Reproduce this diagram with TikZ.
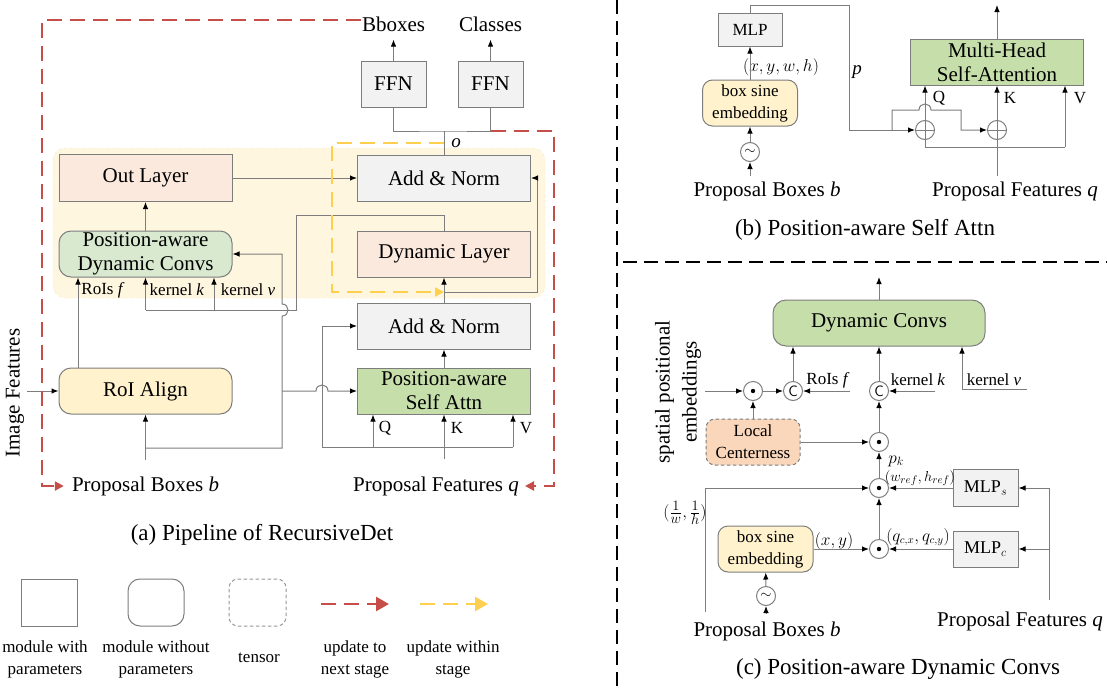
\documentclass[tikz,border=0pt]{standalone}
\usepackage{amsmath}
\usepackage{fontspec}
\setmainfont{Liberation Serif}
\usetikzlibrary{arrows.meta, positioning, calc}
\definecolor{paramgray}{RGB}{242,242,242}
\definecolor{linegray}{RGB}{125,125,125}
\definecolor{layerpeach}{RGB}{251,233,221}
\definecolor{convgreen}{RGB}{216,233,208}
\definecolor{attngreen}{RGB}{198,222,170}
\definecolor{alignyellow}{RGB}{255,242,204}
\definecolor{centerorange}{RGB}{250,214,186}
\definecolor{stagefill}{RGB}{255,246,224}
\definecolor{stageedge}{RGB}{252,234,192}
\definecolor{nextred}{RGB}{197,78,72}
\definecolor{withinyellow}{RGB}{255,208,80}
\newcommand{\boxfont}{\fontsize{21}{24}\selectfont}
\newcommand{\lblfont}{\fontsize{17}{22}\selectfont}
\newcommand{\capfont}{\fontsize{23}{26}\selectfont}
\newcommand{\mathlblfont}{\fontsize{15}{17}\selectfont}
\tikzset{
    parambox/.style={rectangle, draw=linegray, line width=1pt, fill=#1, inner sep=0pt, align=center, font=\boxfont},
    freebox/.style={parambox=#1, rounded corners=12pt},
    tensorbox/.style={parambox=#1, rounded corners=9pt, dash pattern=on 3.5pt off 2.5pt},
    conn/.style={draw=linegray, line width=1pt},
    arr/.style={conn, -{Latex[length=7pt, width=5.5pt, color=black]}},
    nextarrow/.style={draw=nextred, line width=2.6pt, dash pattern=on 15pt off 8pt, -{Triangle[length=9pt, width=9pt]}},
    withinarrow/.style={draw=withinyellow, line width=2.6pt, dash pattern=on 15pt off 8pt, -{Triangle[length=9pt, width=9pt]}},
    sepline/.style={draw=black, line width=2.6pt, dash pattern=on 14pt off 7pt},
    opcircle/.style={circle, draw=linegray, line width=1pt, fill=white, minimum size=19pt, inner sep=0pt},
    opdot/.style={opcircle, path picture={\fill[black] (path picture bounding box.center) circle (2.2pt);}},
    opplus/.style={opcircle, path picture={\draw[linegray, line width=1pt] (path picture bounding box.north) -- (path picture bounding box.south) (path picture bounding box.west) -- (path picture bounding box.east);}},
    opcat/.style={opcircle, font=\fontsize{15}{15}\sffamily},
}

\begin{document}
\begin{tikzpicture}[
    x=1pt, y=-1pt,
    wide/.style={minimum width=173pt, minimum height=46pt},
    lbl/.style={inner sep=1pt, font=\lblfont},
    mlbl/.style={inner sep=1pt, font=\mathlblfont},
    io/.style={inner sep=1pt, font=\boxfont},
    caption/.style={inner sep=1pt, font=\capfont}
]
\useasboundingbox (0,0) rectangle (1107,688);

% (a) stage background
\path[fill=stagefill, draw=stageedge, dashed, rounded corners=12pt] (53,148) rectangle (545,298);

% (a) modules
\node[parambox=layerpeach, wide, minimum height=47pt] (outlayer) at (145.5,178) {Out Layer};
\node[freebox=convgreen, wide] (padc) at (145.5,254) {Position-aware\\Dynamic Convs};
\node[freebox=alignyellow, wide] (roialign) at (145.5,391) {RoI Align};
\node[parambox=paramgray, wide] (addnorm2) at (444,178) {Add \& Norm};
\node[parambox=layerpeach, wide] (dynlayer) at (444,254) {Dynamic Layer};
\node[parambox=paramgray, wide] (addnorm1) at (444,326) {Add \& Norm};
\node[parambox=attngreen, wide] (pasa) at (444,391) {Position-aware\\Self Attn};
\node[parambox=paramgray, minimum width=65pt, minimum height=46pt] (ffnbox) at (393.5,84) {FFN};
\node[parambox=paramgray, minimum width=65pt, minimum height=46pt] (ffncls) at (490.5,84) {FFN};

% (a) texts
\node[io] (bboxes) at (393.5,24) {Bboxes};
\node[io] (classes) at (490.5,24) {Classes};
\node[io] (pboxesa) at (145.5,486) {Proposal Boxes \textit{b}};
\node[io] (pfeatsa) at (436,486) {Proposal Features \textit{q}};
\node[io, rotate=90] (imgfeat) at (15,393) {Image Features};
\node[lbl] (roisa) at (103,290) {RoIs \textit{f}};
\node[lbl] (kernka) at (177,290) {kernel \textit{k}};
\node[lbl] (kernva) at (248,290) {kernel \textit{v}};
\node[lbl] (qa) at (385,428) {Q};
\node[lbl] (ka) at (457,428) {K};
\node[lbl] (va) at (526,428) {V};
\node[lbl, font=\fontsize{19}{19}\selectfont\itshape] (olbl) at (456,143) {o};
\node[caption] (capa) at (262,535) {(a) Pipeline of RecursiveDet};

% (a) outputs
\draw[arr, shorten >=7pt] (ffnbox.north) -- (bboxes.south);
\draw[arr, shorten >=7pt] (ffncls.north) -- (classes.south);
\coordinate (ojoin) at (444,131);
\draw[conn] (ffnbox.south) |- (ojoin) -| (ffncls.south);
\draw[conn] (addnorm2.north) -- (ojoin);

% (a) left column
\draw[arr] (outlayer.east) -- (addnorm2.west);
\draw[arr] (padc) -- (outlayer);
\coordinate (roisx) at (78,0);
\draw[arr] (roialign.north -| roisx) -- (padc.south -| roisx);
\coordinate (kturn) at (296,215);
\coordinate (kbase) at (296,310);
\coordinate (kx) at (145.5,310);
\coordinate (vx) at (214,310);
\draw[conn] (dynlayer.north) |- (kturn) -- (kbase) -- (kx);
\draw[arr] (kx) -- (padc.south -| kx);
\draw[arr] (vx) -- (padc.south -| vx);
\coordinate (imgin) at (27,391);
\draw[arr] (imgin) -- (roialign.west);

% (a) proposal boxes feed
\coordinate (pbfeed) at (145.5,460);
\coordinate (pbjoin) at (145.5,448);
\coordinate (posx) at (282,448);
\draw[arr] (pbfeed) -- (roialign.south);
\draw[arr] (pbjoin) -- (posx) -- (282,316) .. controls (290,316) and (290,304) .. (282,304) |- (padc.east);
\draw[arr] (posx |- pasa.west) -- (316,391) .. controls (316,383) and (328,383) .. (328,391) -- (pasa.west);

% (a) right column
\coordinate (pffeed) at (444,459);
\coordinate (qkvleft) at (322,447);
\coordinate (qx) at (373,447);
\coordinate (vxa) at (513,447);
\draw[arr] (pffeed) -- (pasa.south);
\draw[conn] (qkvleft) -- (vxa);
\draw[arr] (qx) -- (pasa.south -| qx);
\draw[arr] (vxa) -- (pasa.south -| vxa);
\draw[arr] (qkvleft) |- (addnorm1.west);
\draw[arr] (pasa) -- (addnorm1);
\draw[arr] (addnorm1) -- (dynlayer);
\coordinate (resjoin) at (444,292);
\coordinate (resx) at (537,292);
\draw[arr] (resjoin) -- (resx) |- (addnorm2.east);

% (a) update loops
\coordinate (redleft) at (42,486);
\coordinate (redright) at (554,486);
\draw[nextarrow, shorten >=7pt] ([yshift=4pt]bboxes.west) -| (redleft) -- (pboxesa.west);
\draw[nextarrow, shorten >=5pt] (ffncls.south |- ojoin) -| (redright) -- (pfeatsa.east);
\coordinate (ytop) at (444,143);
\coordinate (yleft) at (332,292);
\draw[withinarrow] (ytop) -| (yleft) -- (resjoin);

% panel separators
\draw[sepline] (617,0) -- (617,688);
\draw[sepline] (623,262) -- (1107,262);

% (b) modules
\node[parambox=paramgray, font=\lblfont, minimum width=64pt, minimum height=33pt] (mlpb) at (750,29.5) {MLP};
\node[freebox=alignyellow, font=\lblfont, minimum width=95pt, minimum height=46pt, rounded corners=10pt] (bseb) at (750,103) {box sine\\embedding};
\node[opcircle, font=\mathlblfont] (tildeb) at (750,152) {$\sim$};
\node[opplus] (plus1) at (925,130) {};
\node[opplus] (plus2) at (997,130) {};
\node[parambox=attngreen, wide] (mhsa) at (997,62) {Multi-Head\\Self-Attention};

% (b) texts
\node[io] (pboxesb) at (767,191) {Proposal Boxes \textit{b}};
\node[io] (pfeatsb) at (1015,191) {Proposal Features \textit{q}};
\node[mlbl, font=\fontsize{16}{17}\selectfont] (xywh) at (781,67) {$(x,y,w,h)$};
\node[lbl, font=\fontsize{19}{19}\selectfont\itshape] (plbl) at (857,72) {p};
\node[lbl] (qb) at (939,98) {Q};
\node[lbl] (kb) at (1010,98) {K};
\node[lbl] (vb) at (1080,98) {V};
\node[caption] (capb) at (865,230) {(b) Position-aware Self Attn};

% (b) connections
\coordinate (pbfeedb) at (750,176);
\draw[arr] (pbfeedb) -- (tildeb);
\draw[arr] (tildeb) -- (bseb);
\draw[arr] (bseb) -- (mlpb);
\coordinate (ptop) at (849,5);
\draw[arr] (mlpb.north) |- (ptop) |- (plus1.west);
\coordinate (pbranch) at (892,130);
\draw[arr] (pbranch) -- (892,110) -- (919,110) .. controls (919,102) and (931,102) .. (931,110) -| (961,130) -- (plus2.west);
\coordinate (mhsaout) at (997,5);
\draw[arr] (mhsa.north) -- (mhsaout);
\draw[arr] (plus1) -- (plus1 |- mhsa.south);
\draw[arr] (plus2) -- (plus2 |- mhsa.south);
\coordinate (vturnb) at (1065,147);
\draw[arr] (vturnb) -- (vturnb |- mhsa.south);
\draw[conn] (plus1.south) |- (vturnb);
\coordinate (pffeedb) at (997,176);
\draw[conn] (pffeedb) -- (plus2.south);

% (c) modules
\node[freebox=attngreen, minimum width=212pt, minimum height=46pt, rounded corners=13pt] (dconv) at (879,323) {Dynamic Convs};
\node[opdot] (dot1) at (753,391) {};
\node[opcat] (cat1) at (793,391) {C};
\node[opcat] (cat2) at (879,391) {C};
\node[opdot] (dot2) at (879,442) {};
\node[opdot] (dot3) at (879,488) {};
\node[opdot] (dot4) at (879,549) {};
\node[tensorbox=centerorange, font=\lblfont, minimum width=94pt, minimum height=46pt] (lcent) at (753,442) {Local\\Centerness};
\node[parambox=paramgray, font=\fontsize{18}{18}\selectfont, minimum width=65pt, minimum height=37pt] (mlps) at (985.5,488) {MLP$_s$};
\node[parambox=paramgray, font=\fontsize{18}{18}\selectfont, minimum width=65pt, minimum height=36pt] (mlpc) at (985.5,549) {MLP$_c$};
\node[freebox=alignyellow, font=\lblfont, minimum width=95pt, minimum height=46pt, rounded corners=10pt] (bsec) at (765.5,549) {box sine\\embedding};
\node[opcircle, font=\mathlblfont] (tildec) at (766,596) {$\sim$};

% (c) texts
\node[lbl] (roisc) at (828,380) {RoIs \textit{f}};
\node[lbl] (kernkc) at (918,380) {kernel \textit{k}};
\node[lbl] (kernvc) at (994,380) {kernel \textit{v}};
\node[mlbl, font=\fontsize{18}{18}\selectfont] (pklbl) at (896,461) {$p_k$};
\node[mlbl] (whref) at (920,478) {$(w_{ref},h_{ref})$};
\node[mlbl, font=\fontsize{19}{19}\selectfont] (invwh) at (685,513) {$(\frac{1}{w},\frac{1}{h})$};
\node[mlbl, font=\fontsize{16}{17}\selectfont] (xyc) at (834,541) {$(x,y)$};
\node[mlbl, font=\fontsize{16}{17}\selectfont] (qcxy) at (918,537) {$(q_{c,x},q_{c,y})$};
\node[io] (pboxesc) at (767,631) {Proposal Boxes \textit{b}};
\node[io] (pfeatsc) at (1020,621) {Proposal Features \textit{q}};
\node[io, rotate=90, align=center, font=\fontsize{21}{27}\selectfont] (spe) at (678,392) {spatial positional\\embeddings};
\node[caption] (capc) at (898,669) {(c) Position-aware Dynamic Convs};

% (c) connections
\coordinate (dconvout) at (879,277);
\draw[arr] (dconv.north) -- (dconvout);
\coordinate (spefeed) at (705,391);
\draw[arr] (spefeed) -- (dot1);
\draw[arr] (dot1) -- (cat1);
\draw[arr] (cat1) -- (cat1 |- dconv.south);
\coordinate (roisfeed) at (850,391);
\draw[arr] (roisfeed) -- (cat1);
\coordinate (kfeed) at (935,391);
\draw[arr] (kfeed) -- (cat2);
\draw[arr] (cat2) -- (dconv);
\coordinate (vfeed) at (1027,389);
\coordinate (vturnc) at (962,389);
\draw[arr] (vfeed) -- (vturnc) -- (vturnc |- dconv.south);
\draw[arr] (lcent) -- (dot1);
\draw[arr] (lcent) -- (dot2);
\draw[arr] (dot2) -- (cat2);
\draw[arr] (dot3) -- (dot2);
\draw[arr] (mlps) -- (dot3);
\coordinate (invfeed) at (705,612);
\draw[arr] (invfeed) |- (dot3);
\draw[arr] (dot4) -- (dot3);
\draw[arr] (bsec) -- (dot4);
\draw[arr] (mlpc) -- (dot4);
\coordinate (pbfeedc) at (766,613);
\draw[arr] (pbfeedc) -- (tildec);
\draw[arr] (tildec) -- (bsec);
\coordinate (pffeedc) at (1049,600);
\draw[arr] (pffeedc) |- (mlps);
\draw[arr] (pffeedc |- mlpc) -- (mlpc);

% legend
\node[parambox=white, minimum width=56pt, minimum height=47pt] (legparam) at (49,602.5) {};
\node[freebox=white, minimum width=56pt, minimum height=47pt] (legfree) at (156,602.5) {};
\node[tensorbox=white, draw=linegray!80, minimum width=57pt, minimum height=47pt] (legtensor) at (257.5,602.5) {};
\coordinate (legredA) at (321,604);
\coordinate (legredB) at (389,604);
\coordinate (legyelA) at (420,604);
\coordinate (legyelB) at (488,604);
\draw[nextarrow, -{Triangle[length=13pt, width=14pt]}] (legredA) -- (legredB);
\draw[withinarrow, -{Triangle[length=13pt, width=14pt]}] (legyelA) -- (legyelB);
\node[lbl, align=center] (legparamtxt) at (45,659) {module with\\parameters};
\node[lbl, align=center] (legfreetxt) at (156,659) {module without\\parameters};
\node[lbl] (legtensortxt) at (259,658) {tensor};
\node[lbl, align=center] (legredtxt) at (355,659) {update to\\next stage};
\node[lbl, align=center] (legyeltxt) at (453,659) {update within\\stage};

\end{tikzpicture}
\end{document}
